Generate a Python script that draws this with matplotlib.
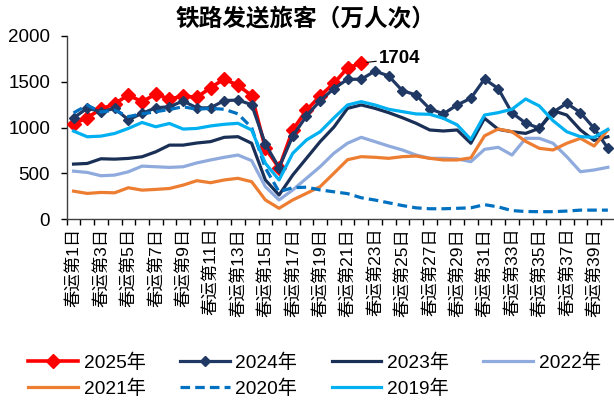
import matplotlib
matplotlib.use('Agg')
import matplotlib.pyplot as plt
import numpy as np

plt.rcParams['font.family'] = ['Liberation Sans', 'Noto Sans CJK SC', 'DejaVu Sans']

days = ['春运第%d日' % i for i in range(1, 41)]

y2025 = [1040, 1110, 1200, 1260, 1355, 1282, 1365, 1310, 1345, 1330, 1435, 1530, 1460, 1350,
         775, 560, 975, 1190, 1345, 1483, 1650, 1704]
y2024 = [1105, 1212, 1173, 1209, 1085, 1155, 1216, 1227, 1290, 1215, 1216, 1295, 1300, 1250,
         821, 563, 908, 1127, 1293, 1425, 1527, 1527, 1617, 1563, 1403, 1356, 1205, 1150, 1247,
         1320, 1530, 1425, 1160, 1050, 992, 1168, 1265, 1163, 992, 775]
y2023 = [602, 609, 660, 656, 664, 682, 736, 809, 809, 832, 847, 894, 901, 829, 429, 265, 483,
         665, 847, 1005, 1210, 1247, 1210, 1163, 1108, 1047, 974, 963, 974, 829, 1101, 981, 955,
         937, 992, 1185, 1137, 974, 860, 900]
y2022 = [525, 511, 475, 482, 518, 580, 573, 566, 573, 615, 647, 676, 701, 640, 356, 211, 320,
         447, 574, 720, 830, 894, 847, 799, 756, 701, 665, 665, 659, 628, 763, 785, 701, 883, 883,
         829, 683, 519, 538, 567]
y2021 = [307, 282, 293, 289, 344, 318, 326, 336, 373, 421, 399, 429, 447, 410, 211, 120, 211,
         283, 356, 502, 650, 683, 676, 665, 683, 690, 665, 647, 647, 670, 910, 985, 955, 850, 774,
         756, 829, 883, 799, 974]
y2020 = [1160, 1245, 1170, 1190, 1120, 1150, 1173, 1198, 1227, 1200, 1210, 1200, 1150, 1000,
         560, 300, 345, 350, 320, 300, 280, 235, 210, 180, 150, 125, 115, 115, 120, 125, 160, 135,
         95, 85, 83, 83, 90, 100, 100, 100]
y2019 = [962, 900, 907, 936, 991, 1056, 1009, 1045, 984, 991, 1018, 1036, 1047, 974, 611, 429,
         720, 865, 955, 1105, 1247, 1283, 1247, 1200, 1174, 1149, 1145, 1101, 1030, 870, 1137,
         1163, 1200, 1312, 1236, 1075, 955, 901, 894, 981]

W, H = 614, 401
fig = plt.figure(figsize=(W / 100, H / 100), dpi=100)
ax = fig.add_axes([66.7 / W, (H - 219.3) / H, 548 / W, 183.4 / H])

x = np.arange(len(days))
lw = 2.3
h25, = ax.plot(x[:len(y2025)], y2025, color='#FF0000', lw=2.6, marker='D', ms=7,
               mec='#FF0000', mfc='#FF0000', zorder=3, label='2025年')
h24, = ax.plot(x, y2024, color='#1F3864', lw=lw, marker='D', ms=5.5, zorder=4, label='2024年')
h23, = ax.plot(x, y2023, color='#192F56', lw=lw, zorder=5, label='2023年')
h22, = ax.plot(x, y2022, color='#8FAADC', lw=lw, zorder=6, label='2022年')
h21, = ax.plot(x, y2021, color='#ED7D31', lw=lw, zorder=7, label='2021年')
h20, = ax.plot(x, y2020, color='#0070C0', lw=lw, ls=(0, (3, 1.6)), zorder=8, label='2020年')
h19, = ax.plot(x, y2019, color='#00B0F0', lw=lw, zorder=9, label='2019年')

ax.set_xlim(-0.5, len(days) - 0.5)
ax.set_ylim(0, 2000)
ax.set_yticks([0, 500, 1000, 1500, 2000])
ax.tick_params(axis='y', labelsize=13.5, length=4, width=1, pad=8, direction='out')

ax.set_xticks(x[::2])
ax.set_xticklabels(days[::2], rotation=90, fontsize=12.5)
ax.set_xticks(np.arange(-0.5, len(days), 1), minor=True)
ax.tick_params(axis='x', which='major', length=0, pad=6)
ax.tick_params(axis='x', which='minor', length=4, width=1, direction='out')

for s in ['top', 'right']:
    ax.spines[s].set_visible(False)
for s in ['left', 'bottom']:
    ax.spines[s].set_color('#404040')
    ax.spines[s].set_linewidth(1)

last = len(y2025) - 1
ax.annotate(str(y2025[-1]), xy=(x[last], y2025[-1]), xytext=(x[last] + 1.3, y2025[-1] + 50),
            fontsize=13.5, fontweight='bold', va='center', ha='left',
            arrowprops=dict(arrowstyle='-', color='black', lw=0.8, shrinkA=0, shrinkB=4))

fig.text(306 / W, 1 - 20 / H, '铁路发送旅客（万人次）', ha='center', va='center',
         fontsize=17, fontweight='bold')

handles = [h25, h21, h24, h20, h23, h19, h22]
fig.legend(handles=handles, labels=[h.get_label() for h in handles], ncol=4,
           loc='center', bbox_to_anchor=(314.5 / W, 0.063), frameon=False, fontsize=13.8,
           handlelength=2.6, columnspacing=1.8, handletextpad=0.28, labelspacing=0.42,
           borderpad=0, borderaxespad=0)

fig.savefig('out.png', dpi=100)
